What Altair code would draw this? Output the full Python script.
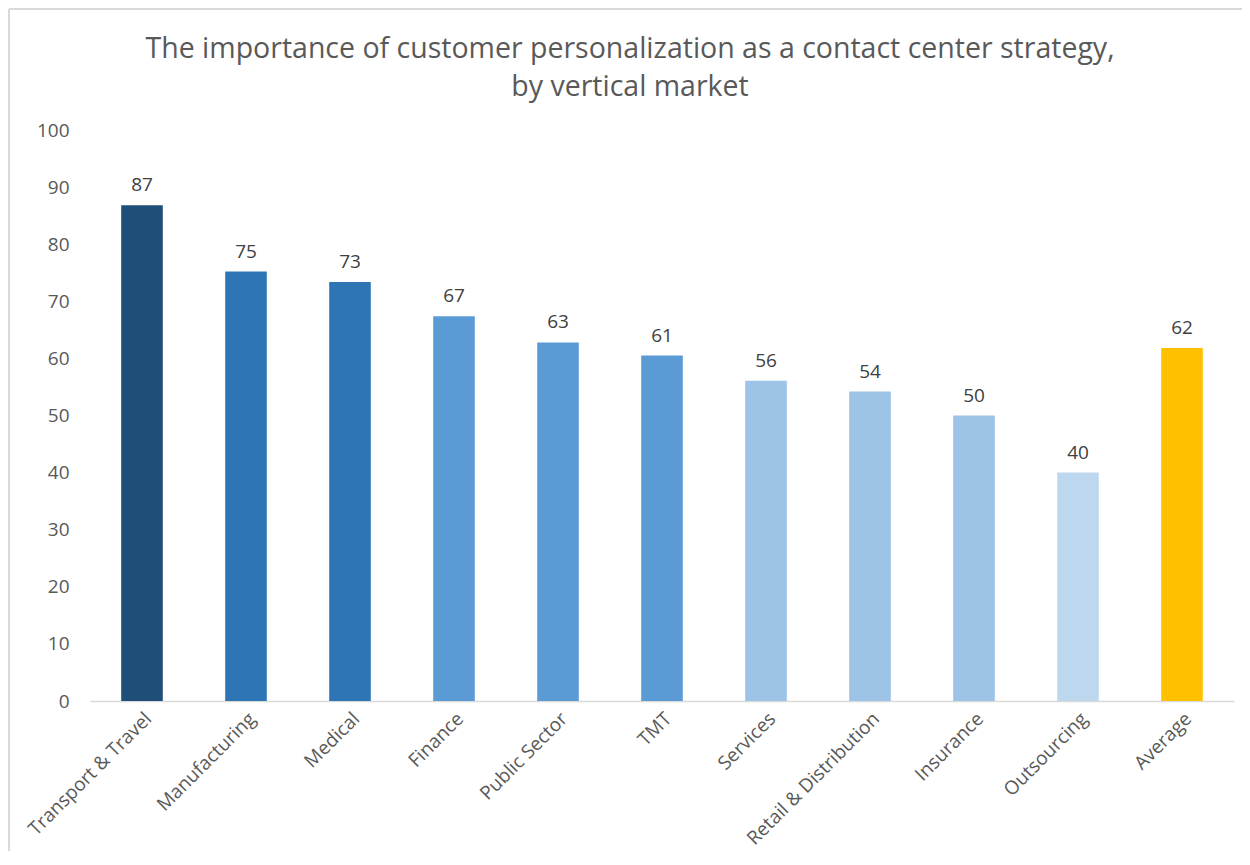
import altair as alt
import pandas as pd

categories = ["Transport & Travel", "Manufacturing", "Medical", "Finance", "Public Sector",
              "TMT", "Services", "Retail & Distribution", "Insurance", "Outsourcing", "Average"]
values = [86.8, 75.2, 73.4, 67.4, 62.8, 60.5, 56.1, 54.2, 50.0, 40.0, 61.8]
colors = ["#1F4E79", "#2E75B6", "#2E75B6", "#5B9BD5", "#5B9BD5", "#5B9BD5",
          "#9DC3E6", "#9DC3E6", "#9DC3E6", "#BDD7EE", "#FFC000"]

df = pd.DataFrame({"category": categories, "value": values, "color": colors})

FONT = "Open Sans"

x = alt.X("category:N", sort=categories, title=None,
          scale=alt.Scale(paddingInner=0.6, paddingOuter=0.3),
          axis=alt.Axis(labelAngle=-45, labelFontSize=19, labelColor="#595959", labelFont=FONT,
                        ticks=False, domainColor="#D9D9D9", domainWidth=1.5, labelPadding=8,
                        labelLimit=300))
y = alt.Y("value:Q", title=None,
          scale=alt.Scale(domain=[0, 100]),
          axis=alt.Axis(values=list(range(0, 101, 10)), grid=False, domain=False, ticks=False,
                        labelFontSize=19, labelColor="#595959", labelFont=FONT, labelPadding=21))

bars = alt.Chart(df).mark_bar().encode(
    x=x, y=y, color=alt.Color("color:N", scale=None)
)
text = alt.Chart(df).mark_text(dy=-10, fontSize=19, color="#404040", font=FONT, baseline="bottom").encode(
    x=alt.X("category:N", sort=categories), y="value:Q", text=alt.Text("value:Q", format=".0f")
)

# chart frame border (top and left edges visible in the reference)
frame_df = pd.DataFrame({"edge": ["frame"]})
border_top = alt.Chart(frame_df).mark_rule(color="#D9D9D9", strokeWidth=2).encode(
    x=alt.value(-81), x2=alt.value(1170), y=alt.value(-121)
)
border_left = alt.Chart(frame_df).mark_rule(color="#D9D9D9", strokeWidth=2).encode(
    x=alt.value(-81), y=alt.value(-121), y2=alt.value(740)
)

chart = (border_top + border_left + bars + text).properties(
    width=1144, height=571,
    background="white",
    title=alt.TitleParams(
        ["The importance of customer personalization as a contact center strategy,", "by vertical market"],
        fontSize=28.5, font=FONT, fontWeight="normal", color="#595959", anchor="middle",
        lineHeight=38, dx=-32, offset=20, dy=113),
    autosize=alt.AutoSizeParams(type="none"),
    padding={"left": 82, "top": 122, "right": 8, "bottom": 150},
).configure_view(strokeWidth=0, stroke=None)

chart.save("out.html", embed_options={"renderer": "svg", "actions": False})
